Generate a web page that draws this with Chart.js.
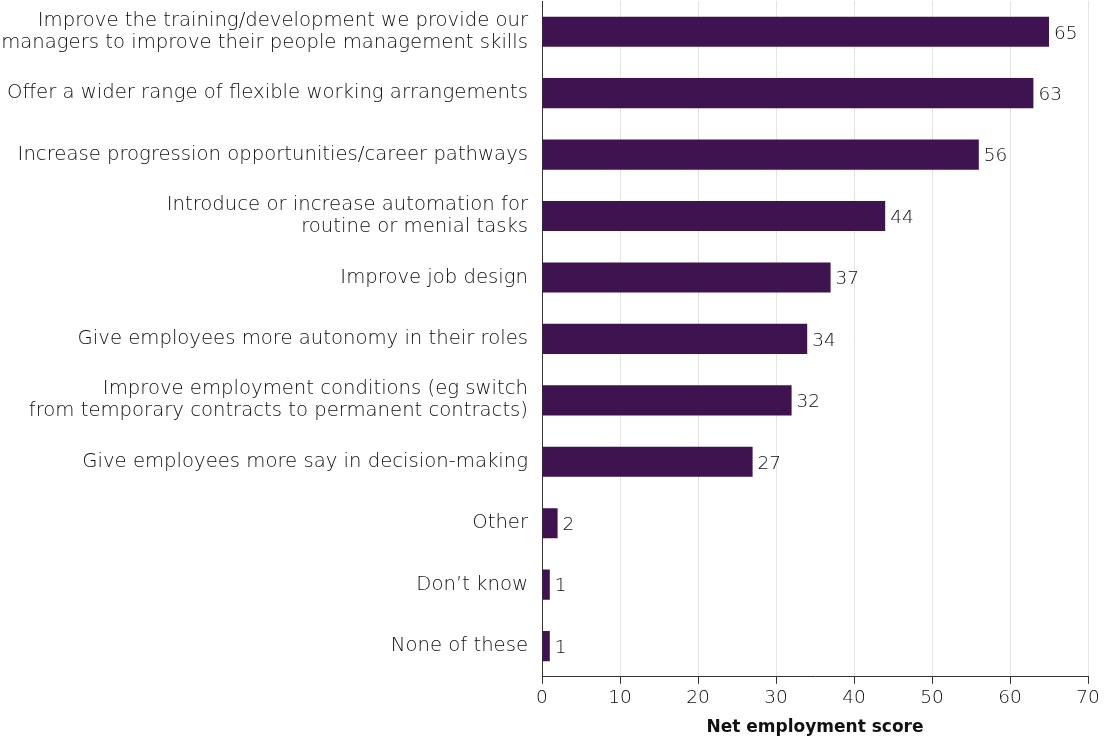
<!DOCTYPE html>
<html>
<head>
<meta charset="utf-8">
<script src="https://cdn.jsdelivr.net/npm/chart.js@4"></script>
<style>
  html, body { margin: 0; padding: 0; background: #fff; }
  #wrap { width: 1104px; height: 737px; }
</style>
</head>
<body>
<div id="wrap"><canvas id="scores"></canvas></div>
<script>
var categories = [
    ['Improve the training/development we provide our', 'managers to improve their people management skills'],
    'Offer a wider range of flexible working arrangements',
    'Increase progression opportunities/career pathways',
    ['Introduce or increase automation for', 'routine or menial tasks'],
    'Improve job design',
    'Give employees more autonomy in their roles',
    ['Improve employment conditions (eg switch', 'from temporary contracts to permanent contracts)'],
    'Give employees more say in decision-making',
    'Other',
    'Don\u2019t know',
    'None of these'
];
var scores = [65, 63, 56, 44, 37, 34, 32, 27, 2, 1, 1];
var xTicks = [0, 10, 20, 30, 40, 50, 60, 70];

var fontFamily = '"DejaVu Sans", sans-serif';
var textColor = '#0d0d0d';

// writes each bar's value just past its end
var valueLabels = {
    id: 'valueLabels',
    afterDatasetsDraw: function(chart) {
        var ctx = chart.ctx;
        var meta = chart.getDatasetMeta(0);
        ctx.save();
        ctx.font = '300 18.5px ' + fontFamily;
        ctx.fillStyle = textColor;
        ctx.textAlign = 'left';
        ctx.textBaseline = 'middle';
        meta.data.forEach(function(bar, i) {
            ctx.fillText(String(scores[i]), bar.x + 5, bar.y + 2);
        });
        ctx.restore();
    }
};

var scoreChart = new Chart(document.getElementById('scores'), {
    type: 'bar',
    data: {
        labels: categories,
        datasets: [{
            data: scores,
            backgroundColor: '#3f1250',
            borderWidth: 0,
            categoryPercentage: 1,
            barPercentage: 0.49
        }]
    },
    options: {
        indexAxis: 'y',
        responsive: true,
        maintainAspectRatio: false,
        animation: false,
        layout: {
            padding: { top: 1, right: 16, bottom: 0, left: 0 }
        },
        plugins: {
            legend: { display: false },
            tooltip: { enabled: false }
        },
        scales: {
            x: {
                min: 0,
                max: 70,
                afterBuildTicks: function(axis) {
                    axis.ticks = xTicks.map(function(v) { return { value: v }; });
                },
                grid: {
                    color: '#e7e2de',
                    lineWidth: 1,
                    drawTicks: true,
                    tickLength: 7,
                    tickColor: '#333333'
                },
                border: { color: '#333333', width: 1 },
                ticks: {
                    color: textColor,
                    font: { family: fontFamily, size: 18.5, weight: '300' },
                    padding: 3
                },
                title: {
                    display: true,
                    text: 'Net employment score',
                    color: '#111111',
                    font: { family: fontFamily, size: 17, weight: 'bold', lineHeight: 1 },
                    padding: { top: 7, bottom: 1 }
                }
            },
            y: {
                grid: { display: false, drawTicks: false },
                border: { color: '#333333', width: 1 },
                afterFit: function(axis) {
                    axis.width = 542;
                    axis.paddingTop = 0;
                    axis.paddingBottom = 0;
                },
                ticks: {
                    color: textColor,
                    font: { family: fontFamily, size: 19.65, weight: '300', lineHeight: 1.12 },
                    padding: 14
                }
            }
        }
    },
    plugins: [valueLabels]
});
</script>
</body>
</html>
